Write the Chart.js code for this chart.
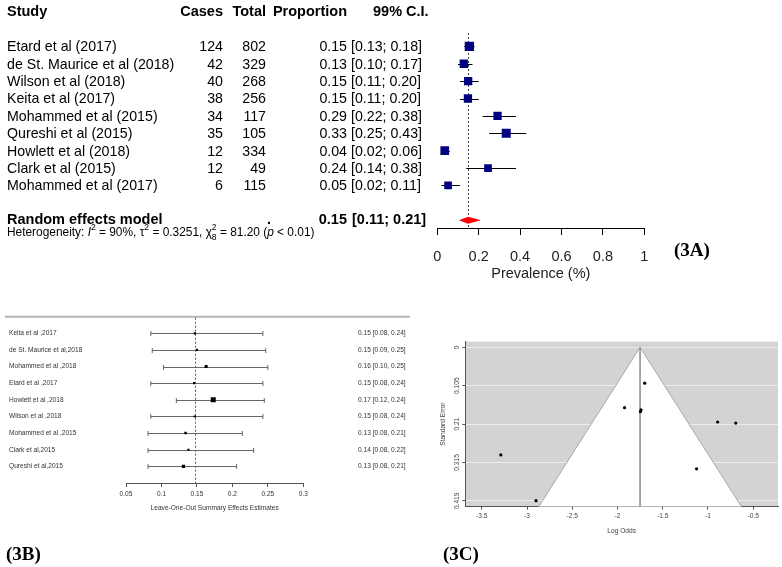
<!DOCTYPE html>
<html><head><meta charset="utf-8">
<script src="https://cdn.jsdelivr.net/npm/chart.js@4/dist/chart.umd.min.js"></script>
<style>
html,body{margin:0;padding:0;background:#fff;}
#wrap{position:relative;width:782px;height:567px;overflow:hidden;background:#fff;}
canvas{position:absolute;}
</style></head><body>
<div id="wrap">
<canvas id="cA" width="782" height="290" style="left:0;top:0;width:782px;height:290px"></canvas>
<canvas id="cB" width="430" height="277" style="left:0;top:290px;width:430px;height:277px"></canvas>
<canvas id="cC" width="352" height="237" style="left:430px;top:330px;width:352px;height:237px"></canvas>
</div>
<script>
// ---------- Panel 3A : forest plot ----------
const studiesA = ["Etard et al (2017)", "de St. Maurice et al (2018)", "Wilson et al (2018)", "Keita et al (2017)", "Mohammed et al (2015)", "Qureshi et al (2015)", "Howlett et al (2018)", "Clark et al (2015)", "Mohammed et al (2017)"];
const casesA = [124, 42, 40, 38, 34, 35, 12, 12, 6];
const totalsA = [802, 329, 268, 256, 117, 105, 334, 49, 115];
const propA = [0.155, 0.128, 0.149, 0.148, 0.291, 0.333, 0.036, 0.245, 0.052];
const propLabelA = ["0.15", "0.13", "0.15", "0.15", "0.29", "0.33", "0.04", "0.24", "0.05"];
const ciLoA = [0.13, 0.10, 0.11, 0.11, 0.22, 0.25, 0.02, 0.14, 0.02];
const ciHiA = [0.18, 0.17, 0.20, 0.20, 0.38, 0.43, 0.06, 0.38, 0.11];
const ciLabelA = ["[0.13; 0.18]", "[0.10; 0.17]", "[0.11; 0.20]", "[0.11; 0.20]", "[0.22; 0.38]", "[0.25; 0.43]", "[0.02; 0.06]", "[0.14; 0.38]", "[0.02; 0.11]"];
const pooledEstA = 0.148;
const pooledLoA = 0.105;
const pooledHiA = 0.21;
const pooledLabelA = "0.15";
const pooledCiLabelA = "[0.11; 0.21]";
const xTicksA = [0, 0.2, 0.4, 0.6, 0.8, 1];

// ---------- Panel 3B : leave-one-out ----------
const studiesB = ["Keita et al ,2017", "de St. Maurice et al,2018", "Mohammed et al ,2018", "Etard et al ,2017", "Howlett et al ,2018", "Wilson et al ,2018", "Mohammed et al ,2015", "Clark et al,2015", "Qureshi et al,2015"];
const estB = [0.147, 0.150, 0.163, 0.146, 0.173, 0.147, 0.134, 0.138, 0.131];
const loB = [0.085, 0.087, 0.103, 0.085, 0.121, 0.085, 0.081, 0.081, 0.081];
const hiB = [0.243, 0.247, 0.250, 0.243, 0.245, 0.243, 0.214, 0.230, 0.206];
const labelB = ["0.15 [0.08, 0.24]", "0.15 [0.09, 0.25]", "0.16 [0.10, 0.25]", "0.15 [0.08, 0.24]", "0.17 [0.12, 0.24]", "0.15 [0.08, 0.24]", "0.13 [0.08, 0.21]", "0.14 [0.08, 0.22]", "0.13 [0.08, 0.21]"];
const overallB = 0.147;
const xTicksB = [0.05, 0.1, 0.15, 0.2, 0.25, 0.3];

// ---------- Panel 3C : funnel plot ----------
const logOddsC = [-1.699, -1.922, -1.740, -1.747, -0.893, -0.693, -3.290, -1.126, -2.900];
const seC = [0.098, 0.165, 0.171, 0.176, 0.204, 0.207, 0.294, 0.332, 0.419];
const centerC = -1.75;
const funnelXC = [-2.87, -1.75, -0.63];
const funnelYC = [0.4354, 0, 0.4354];
const xTicksC = [-3.5, -3, -2.5, -2, -1.5, -1, -0.5];
const yTicksC = [0, 0.1048, 0.2096, 0.3145, 0.4193];
const yTickLabelsC = ["0", "0.105", "0.21", "0.315", "0.419"];

const SANS = '"Liberation Sans", Arial, sans-serif';
const SERIF = '"Liberation Serif", "Times New Roman", serif';
Chart.defaults.font.family = SANS;
Chart.defaults.animation = false;

// square sizes (px side) for panel A / B markers (styling)
const sideA = [9.3, 8.3, 8.3, 8.3, 8.3, 9, 8.7, 7.7, 7.7];
const sideB = [2.2, 2.2, 3, 2.2, 5, 2.2, 2.5, 2.2, 3.2];

function drawRuns(ctx, x, y, runs, size) {
  for (const r of runs) {
    const small = r.sup || r.sub;
    const fs = small ? size * 0.72 : size;
    ctx.font = (r.italic ? 'italic ' : '') + fs + 'px ' + SANS;
    const dy = r.sup ? -size * 0.42 : 0;
    ctx.fillText(r.t, x, y + dy);
    let w = ctx.measureText(r.t).width;
    if (r.stack) {
      ctx.fillText(r.stack, x, y + size * 0.38);
      w = Math.max(w, ctx.measureText(r.stack).width);
    }
    x += w;
  }
}

const pluginA = {
  id: 'pA',
  beforeDatasetsDraw(chart) {
    const {ctx, scales: {x, y}, chartArea} = chart;
    ctx.save();
    ctx.strokeStyle = '#444'; ctx.lineWidth = 1; ctx.setLineDash([2, 2]);
    const xp = Math.round(x.getPixelForValue(pooledEstA)) + 0.5;
    ctx.beginPath(); ctx.moveTo(xp, y.getPixelForValue(0.23)); ctx.lineTo(xp, chartArea.bottom); ctx.stroke();
    ctx.setLineDash([]);
    ctx.strokeStyle = '#000'; ctx.lineWidth = 1;
    studiesA.forEach((s, i) => {
      const py = Math.round(y.getPixelForValue(i + 1)) + 0.5;
      ctx.beginPath(); ctx.moveTo(x.getPixelForValue(ciLoA[i]), py); ctx.lineTo(x.getPixelForValue(ciHiA[i]), py); ctx.stroke();
    });
    ctx.restore();
  },
  afterDatasetsDraw(chart) {
    const {ctx, scales: {x, y}} = chart;
    ctx.save();
    const py = y.getPixelForValue(11);
    ctx.fillStyle = '#ff0000';
    ctx.beginPath();
    ctx.moveTo(x.getPixelForValue(pooledLoA), py);
    ctx.lineTo(x.getPixelForValue(pooledEstA), py - 3.5);
    ctx.lineTo(x.getPixelForValue(pooledHiA), py);
    ctx.lineTo(x.getPixelForValue(pooledEstA), py + 3.5);
    ctx.closePath(); ctx.fill();
    ctx.restore();
  },
  afterDraw(chart) {
    const {ctx, scales: {y}} = chart;
    ctx.save();
    ctx.fillStyle = '#000';
    ctx.textBaseline = 'middle';
    const hy = y.getPixelForValue(-1.0);
    ctx.font = 'bold 14.5px ' + SANS;
    ctx.textAlign = 'left'; ctx.fillText('Study', 7, hy);
    ctx.textAlign = 'right';
    ctx.fillText('Cases', 223, hy);
    ctx.fillText('Total', 266, hy);
    ctx.fillText('Proportion', 347, hy);
    ctx.textAlign = 'left'; ctx.fillText('99% C.I.', 373, hy);
    ctx.font = '14.2px ' + SANS;
    studiesA.forEach((s, i) => {
      const ry = y.getPixelForValue(i + 1) + 1;
      ctx.textAlign = 'left'; ctx.fillText(s, 7, ry);
      ctx.textAlign = 'right';
      ctx.fillText(String(casesA[i]), 223, ry);
      ctx.fillText(String(totalsA[i]), 266, ry);
      ctx.fillText(propLabelA[i], 347, ry);
      ctx.textAlign = 'left'; ctx.fillText(ciLabelA[i], 351, ry);
    });
    const py = y.getPixelForValue(11.0);
    ctx.font = 'bold 14.5px ' + SANS;
    ctx.textAlign = 'left'; ctx.fillText('Random effects model', 7, py);
    ctx.textAlign = 'center'; ctx.fillText('.', 269, py);
    ctx.textAlign = 'right'; ctx.fillText(pooledLabelA, 347, py);
    ctx.textAlign = 'left'; ctx.fillText(pooledCiLabelA, 352, py);
    ctx.textAlign = 'left';
    drawRuns(ctx, 7, y.getPixelForValue(11.72), [
      {t: 'Heterogeneity: '}, {t: 'I', italic: true}, {t: '2', sup: true},
      {t: ' = 90%, '}, {t: '\u03c4'}, {t: '2', sup: true},
      {t: ' = 0.3251, '}, {t: '\u03c7'}, {t: '2', sup: true, stack: '8'},
      {t: ' = 81.20 ('}, {t: 'p', italic: true}, {t: ' < 0.01)'}
    ], 11.9);
    ctx.font = 'bold 19px ' + SERIF;
    ctx.fillText('(3A)', 674, 251);
    ctx.restore();
  }
};

new Chart(document.getElementById('cA'), {
  type: 'scatter',
  data: {
    datasets: [{
      data: propA.map((p, i) => ({x: p, y: i + 1})),
      pointStyle: 'rect',
      pointRadius: sideA.map(s => s / 1.4142),
      backgroundColor: '#000080', borderColor: '#000080', borderWidth: 0
    }]
  },
  options: {
    responsive: false, devicePixelRatio: 1, animation: false,
    layout: {padding: {left: 437.3, right: 137.7, top: 29, bottom: 7}},
    plugins: {legend: {display: false}, tooltip: {enabled: false}},
    scales: {
      x: {
        type: 'linear', min: 0, max: 1,
        afterBuildTicks: s => { s.ticks = xTicksA.map(v => ({value: v})); },
        afterFit: s => { s.height = 55; },
        grid: {drawOnChartArea: false, drawTicks: true, tickLength: 7, color: '#000', tickColor: '#000'},
        border: {display: true, color: '#000', width: 1},
        ticks: {font: {size: 14.5}, color: '#222', padding: 13, maxRotation: 0, callback: v => String(v)},
        title: {display: true, text: 'Prevalence (%)', font: {size: 14.5}, color: '#222', padding: 0}
      },
      y: {type: 'linear', min: 0, max: 11.45, reverse: true, display: false}
    }
  },
  plugins: [pluginA]
});

// ---------- Chart B ----------
const pluginB = {
  id: 'pB',
  beforeDatasetsDraw(chart) {
    const {ctx, scales: {x, y}, chartArea} = chart;
    ctx.save();
    const yt = y.getPixelForValue(-1);
    ctx.strokeStyle = '#b5b5b5'; ctx.lineWidth = 2;
    ctx.beginPath(); ctx.moveTo(5, yt); ctx.lineTo(410, yt); ctx.stroke();
    ctx.strokeStyle = '#333'; ctx.lineWidth = 0.8; ctx.setLineDash([2, 2]);
    const xo = Math.round(x.getPixelForValue(overallB)) + 0.5;
    ctx.beginPath(); ctx.moveTo(xo, yt + 1); ctx.lineTo(xo, chartArea.bottom); ctx.stroke();
    ctx.setLineDash([]);
    ctx.strokeStyle = '#666'; ctx.lineWidth = 1;
    studiesB.forEach((s, i) => {
      const py = Math.round(y.getPixelForValue(i)) + 0.5;
      const x1 = x.getPixelForValue(loB[i]), x2 = x.getPixelForValue(hiB[i]);
      ctx.beginPath();
      ctx.moveTo(x1, py); ctx.lineTo(x2, py);
      ctx.moveTo(x1, py - 2.5); ctx.lineTo(x1, py + 2.5);
      ctx.moveTo(x2, py - 2.5); ctx.lineTo(x2, py + 2.5);
      ctx.stroke();
    });
    ctx.restore();
  },
  afterDraw(chart) {
    const {ctx, scales: {y}} = chart;
    ctx.save();
    ctx.fillStyle = '#333'; ctx.textBaseline = 'middle'; ctx.textAlign = 'left';
    ctx.font = '6.6px ' + SANS;
    studiesB.forEach((s, i) => {
      const py = y.getPixelForValue(i);
      ctx.fillText(s, 9, py);
      ctx.fillText(labelB[i], 358, py);
    });
    ctx.fillStyle = '#000';
    ctx.font = 'bold 19px ' + SERIF;
    ctx.fillText('(3B)', 6, 265);
    ctx.restore();
  }
};

new Chart(document.getElementById('cB'), {
  type: 'scatter',
  data: {
    datasets: [{
      data: estB.map((e, i) => ({x: e, y: i})),
      pointStyle: 'rect',
      pointRadius: sideB.map(s => s / 1.4142),
      backgroundColor: '#000', borderColor: '#000', borderWidth: 0
    }]
  },
  options: {
    responsive: false, devicePixelRatio: 1, animation: false,
    layout: {padding: {left: 126, right: 126.7, top: 26.7, bottom: 55.2}},
    plugins: {legend: {display: false}, tooltip: {enabled: false}},
    scales: {
      x: {
        type: 'linear', min: 0.05, max: 0.3,
        afterBuildTicks: s => { s.ticks = xTicksB.map(v => ({value: v})); },
        afterFit: s => { s.height = 28.8; },
        grid: {drawOnChartArea: false, drawTicks: true, tickLength: 4, color: '#555', tickColor: '#555'},
        border: {display: true, color: '#555', width: 1},
        ticks: {font: {size: 6.6}, color: '#333', padding: 3, maxRotation: 0, callback: v => String(v)},
        title: {display: true, text: 'Leave-One-Out Summary Effects Estimates', font: {size: 6.6}, color: '#333', padding: 0}
      },
      y: {type: 'linear', min: -1, max: 9, reverse: true, display: false}
    }
  },
  plugins: [pluginB]
});

// ---------- Chart C ----------
const pluginC = {
  id: 'pC',
  beforeDraw(chart) {
    const {ctx, chartArea: a} = chart;
    ctx.save();
    ctx.fillStyle = '#d3d3d3';
    ctx.fillRect(a.left, a.top, a.right - a.left, a.bottom - a.top);
    ctx.restore();
  },
  afterDraw(chart) {
    const {ctx, scales: {y}} = chart;
    ctx.save();
    ctx.fillStyle = '#444'; ctx.textBaseline = 'middle'; ctx.textAlign = 'center';
    ctx.font = '6.6px ' + SANS;
    yTicksC.forEach((v, i) => {
      ctx.save();
      ctx.translate(26.7, y.getPixelForValue(v));
      ctx.rotate(-Math.PI / 2);
      ctx.fillText(yTickLabelsC[i], 0, 0);
      ctx.restore();
    });
    ctx.fillStyle = '#000'; ctx.textAlign = 'left';
    ctx.font = 'bold 19px ' + SERIF;
    ctx.fillText('(3C)', 13, 225);
    ctx.restore();
  }
};

new Chart(document.getElementById('cC'), {
  type: 'scatter',
  data: {
    datasets: [
      {
        data: logOddsC.map((v, i) => ({x: v, y: seC[i]})),
        pointStyle: 'circle', pointRadius: 1.6,
        backgroundColor: '#000', borderColor: '#000', borderWidth: 0
      },
      {
        data: [{x: centerC, y: funnelYC[1]}, {x: centerC, y: funnelYC[0]}],
        showLine: true, pointRadius: 0, borderColor: '#9a9a9a', borderWidth: 1, fill: false
      },
      {
        data: funnelXC.map((v, i) => ({x: v, y: funnelYC[i]})),
        showLine: true, pointRadius: 0, borderColor: '#a8a8a8', borderWidth: 1,
        fill: 'shape', backgroundColor: '#ffffff', tension: 0
      }
    ]
  },
  options: {
    responsive: false, devicePixelRatio: 1, animation: false,
    layout: {padding: {left: 0, right: 0, top: 11.7, bottom: 32.1}},
    plugins: {legend: {display: false}, tooltip: {enabled: false}},
    scales: {
      x: {
        type: 'linear', min: -3.682, max: -0.226,
        afterBuildTicks: s => { s.ticks = xTicksC.map(v => ({value: v})); },
        afterFit: s => { s.height = 28.2; },
        grid: {drawOnChartArea: false, drawTicks: true, tickLength: 3, color: '#555', tickColor: '#555'},
        border: {display: true, color: '#555', width: 1},
        ticks: {font: {size: 6.6}, color: '#444', padding: 3, maxRotation: 0, callback: v => String(v)},
        title: {display: true, text: 'Log Odds', font: {size: 6.6}, color: '#444', padding: 0}
      },
      y: {
        type: 'linear', min: -0.0153, max: 0.4354, reverse: true,
        afterBuildTicks: s => { s.ticks = yTicksC.map(v => ({value: v})); },
        afterFit: s => { s.width = 35.3; },
        grid: {drawOnChartArea: true, drawTicks: true, tickLength: 3, color: '#ededed', tickColor: '#555', lineWidth: 1},
        border: {display: true, color: '#555', width: 1},
        ticks: {display: false},
        title: {display: true, text: 'Standard Error', font: {size: 6.6}, color: '#444', padding: {top: 8.8, bottom: 0}}
      }
    }
  },
  plugins: [pluginC]
});
</script>
</body></html>
